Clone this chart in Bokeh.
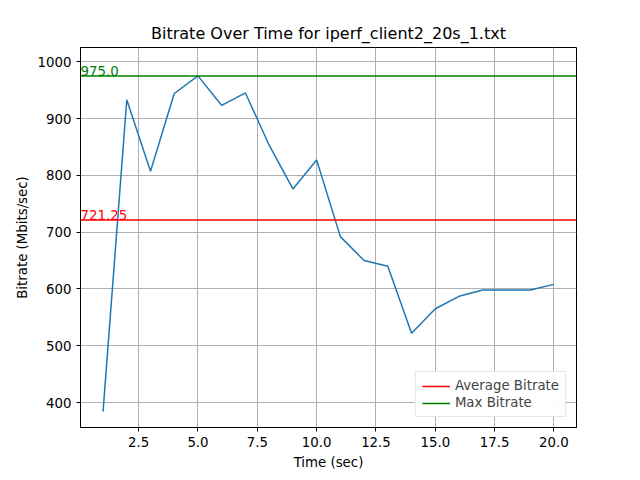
from bokeh.plotting import figure
from bokeh.models import Span, Legend, LegendItem, Range1d, FixedTicker, Label, ColumnDataSource, NumeralTickFormatter
from bokeh.embed import file_html
from bokeh.resources import INLINE

time = list(range(1, 21))
bitrate = [384, 933, 807, 944, 975, 923, 945, 853, 776, 827, 692, 650, 640, 522, 565, 587, 598, 598, 598, 608]
avg = round(sum(bitrate) / len(bitrate), 2)
mx = float(max(bitrate))

p = figure(width=640, height=480, output_backend="svg", toolbar_location=None,
           title="Bitrate Over Time for iperf_client2_20s_1.txt",
           x_range=Range1d(0.05, 20.95), y_range=Range1d(356, 1025),
           min_border_left=80, min_border_right=64, min_border_top=47, min_border_bottom=53)
p.title.align = "center"
p.title.text_font = "DejaVu Sans"
p.title.text_font_size = "12pt"
p.title.text_font_style = "normal"
p.title.text_color = "black"
p.xaxis.axis_label = "Time (sec)"
p.yaxis.axis_label = "Bitrate (Mbits/sec)"
for ax in (p.xaxis[0], p.yaxis[0]):
    ax.axis_label_text_font = "DejaVu Sans"
    ax.axis_label_text_font_style = "normal"
    ax.axis_label_text_font_size = "10pt"
    ax.axis_label_text_color = "black"
    ax.major_label_text_font = "DejaVu Sans"
    ax.major_label_text_font_size = "10pt"
    ax.major_label_text_color = "black"
    ax.minor_tick_line_color = None
    ax.major_tick_in = 0
    ax.major_tick_out = 4
    ax.axis_line_color = "black"
    ax.major_tick_line_color = "black"
p.xaxis.ticker = FixedTicker(ticks=[2.5, 5, 7.5, 10, 12.5, 15, 17.5, 20])
p.xaxis.formatter = NumeralTickFormatter(format="0.0")
p.yaxis.ticker = FixedTicker(ticks=[400, 500, 600, 700, 800, 900, 1000])
p.grid.grid_line_color = "#b0b0b0"
p.grid.grid_line_alpha = 1
p.outline_line_color = "black"
p.background_fill_color = "white"

p.line(time, bitrate, line_color="#1f77b4", line_width=1.5)
p.add_layout(Span(location=avg, dimension="width", line_color="red", line_width=1.5))
p.add_layout(Span(location=mx, dimension="width", line_color="green", line_width=1.5))
p.add_layout(Label(x=0.05, y=avg, text=f"{avg}", text_color="red", text_font_size="10pt", text_font="DejaVu Sans"))
p.add_layout(Label(x=0.05, y=mx, text=f"{mx}", text_color="green", text_font_size="10pt", text_font="DejaVu Sans"))

r1 = p.line(x="x", y="y", source=ColumnDataSource(dict(x=[time[0]], y=[avg])), line_color="red", line_width=1.5)
r2 = p.line(x="x", y="y", source=ColumnDataSource(dict(x=[time[0]], y=[mx])), line_color="green", line_width=1.5)
leg = Legend(items=[LegendItem(label="Average Bitrate", renderers=[r1]),
                    LegendItem(label="Max Bitrate", renderers=[r2])],
             location="bottom_right", label_text_font="DejaVu Sans", label_text_font_size="10pt",
             border_line_color="#cccccc", spacing=2, padding=6, glyph_height=12, label_height=12,
             glyph_width=28)
p.add_layout(leg)

open("out.html", "w").write(file_html(p, INLINE))
